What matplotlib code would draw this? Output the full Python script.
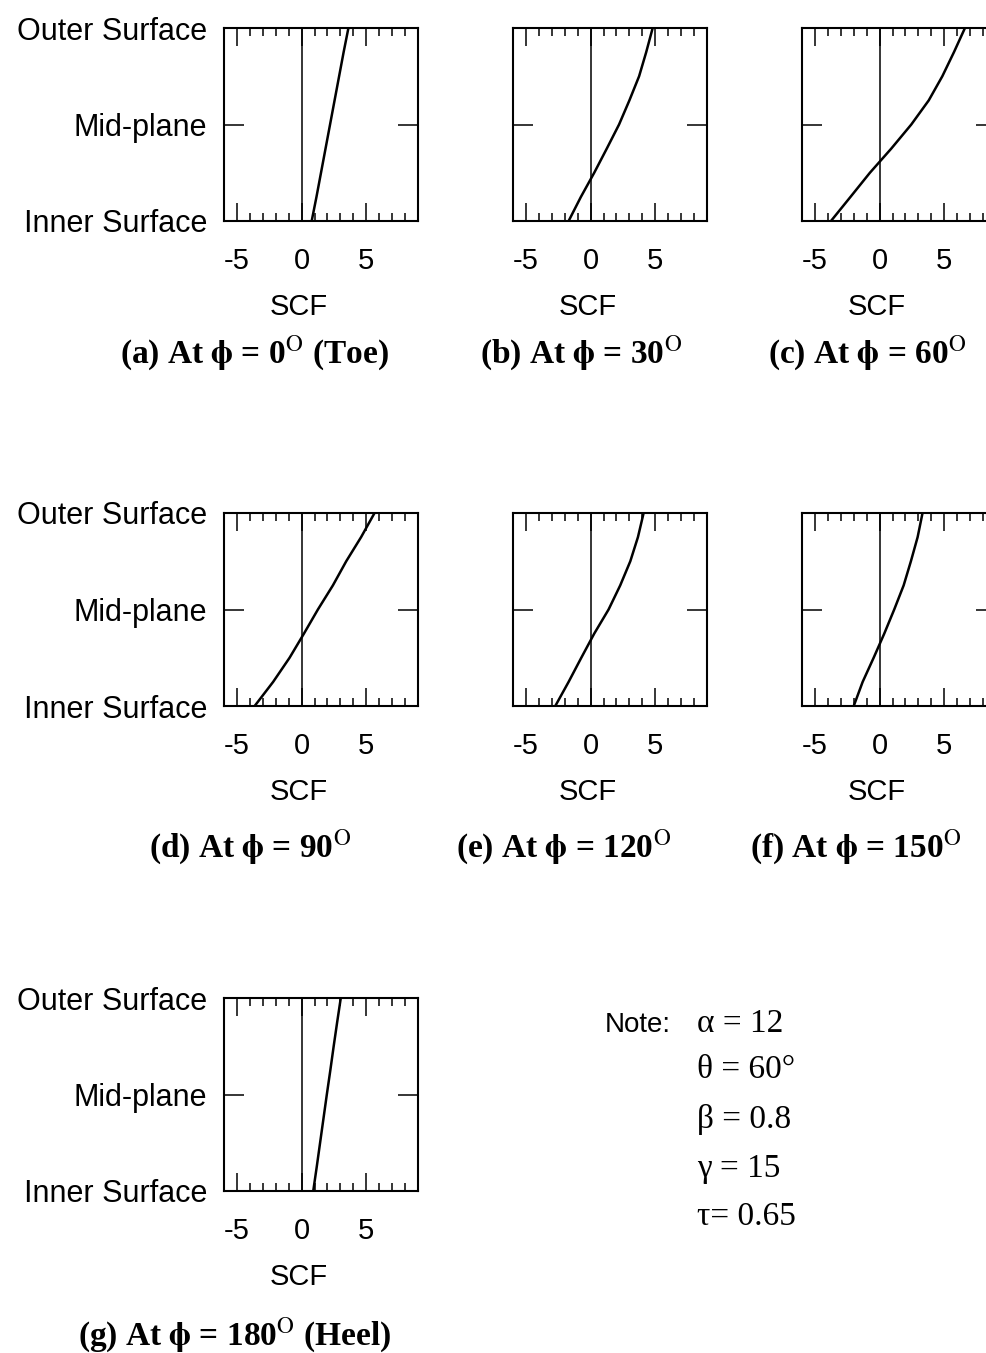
import matplotlib

matplotlib.use("Agg")
import matplotlib.pyplot as plt  # noqa: E402
from matplotlib.ticker import MultipleLocator  # noqa: E402

plt.rcParams["font.family"] = ["Liberation Sans", "DejaVu Sans"]
plt.rcParams["mathtext.fontset"] = "stix"

FIG_W, FIG_H = 987, 1353

# position through the wall: 0 = inner surface, 1 = outer surface
DEPTH = [0.0, 0.125, 0.25, 0.375, 0.5, 0.625, 0.75, 0.875, 1.0]

SCF_A = [0.78, 1.15, 1.50, 1.85, 2.20, 2.55, 2.90, 3.25, 3.62]
SCF_B = [-1.70, -0.75, 0.28, 1.25, 2.20, 3.00, 3.75, 4.30, 4.80]
SCF_C = [-3.76, -2.25, -0.75, 0.90, 2.45, 3.80, 4.85, 5.75, 6.60]
SCF_D = [-3.63, -2.20, -0.93, 0.18, 1.26, 2.42, 3.45, 4.60, 5.64]
SCF_E = [-2.73, -1.70, -0.72, 0.28, 1.39, 2.29, 3.07, 3.66, 4.10]
SCF_F = [-2.00, -1.31, -0.46, 0.36, 1.13, 1.86, 2.42, 2.94, 3.32]
SCF_G = [0.90, 1.17, 1.43, 1.69, 1.95, 2.22, 2.48, 2.75, 3.03]

LETTERS = ["a", "b", "c", "d", "e", "f", "g"]
PHI_DEG = [0, 30, 60, 90, 120, 150, 180]
SUFFIX = [" (Toe)", "", "", "", "", "", " (Heel)"]

XTICKS = [-5, 0, 5]
XTICK_LABELS = ["-5", "0", "5"]
YTICKS = [0.0, 0.5, 1.0]
YTICK_LABELS = ["Inner Surface", "Mid-plane", "Outer Surface"]

NOTE_LINES = ["\u03b1 = 12", "\u03b8 = 60\u00b0", "\u03b2 = 0.8", "\u03b3 = 15", "\u03c4= 0.65"]

# layout in pixels
COL_LEFT = [224, 513, 802]
ROW_TOP = [28, 513, 998]
AX_W, AX_H = 194, 193
GRID = [(0, 0), (0, 1), (0, 2), (1, 0), (1, 1), (1, 2), (2, 0)]
CAP_X = [254, 581, 867, 250, 564, 856, 235]
CAP_BASE = [363, 363, 363, 857, 857, 857, 1345]
NOTE_BASE = [1032, 1078, 1128, 1177, 1225]


def draw_panel(ax, scf, show_ylabels):
    ax.plot(scf, DEPTH, color="black", linewidth=1.8)
    ax.axvline(0, color="black", linewidth=1.1)
    ax.set_xlim(-6, 9)
    ax.set_ylim(0, 1)
    ax.set_xticks(XTICKS)
    ax.set_xticklabels(XTICK_LABELS)
    ax.xaxis.set_minor_locator(MultipleLocator(1))
    ax.set_yticks(YTICKS)
    ax.set_yticklabels(YTICK_LABELS if show_ylabels else [])
    ax.tick_params(axis="x", which="major", direction="in", top=True, bottom=True,
                   length=13, width=1.1, pad=19, labelsize=21)
    ax.tick_params(axis="x", which="minor", direction="in", top=True, bottom=True,
                   length=6, width=1.1)
    ax.tick_params(axis="y", direction="in", left=True, right=True,
                   length=14.5, width=1.1, pad=12, labelsize=22)
    for sp in ax.spines.values():
        sp.set_linewidth(1.5)
    ax.set_xlabel("SCF", fontsize=21)
    ax.xaxis.set_label_coords(0.387, -0.373)


fig = plt.figure(figsize=(FIG_W / 100, FIG_H / 100), dpi=100)

series = [SCF_A, SCF_B, SCF_C, SCF_D, SCF_E, SCF_F, SCF_G]
for i, scf in enumerate(series):
    r, c = GRID[i]
    rect = [COL_LEFT[c] / FIG_W, 1 - (ROW_TOP[r] + AX_H) / FIG_H, AX_W / FIG_W, AX_H / FIG_H]
    ax = fig.add_axes(rect)
    draw_panel(ax, scf, c == 0)
    caption = f"({LETTERS[i]}) At $\\mathbf{{\\phi}}$ = {PHI_DEG[i]}$^{{\\mathrm{{O}}}}$" + SUFFIX[i]
    fig.text(CAP_X[i] / FIG_W, 1 - CAP_BASE[i] / FIG_H, caption, ha="center", va="baseline",
             fontsize=24, fontweight="bold", family="Liberation Serif")

# parameter note
fig.text(605 / FIG_W, 1 - NOTE_BASE[0] / FIG_H, "Note:", ha="left", va="baseline", fontsize=20)
for line, yb in zip(NOTE_LINES, NOTE_BASE):
    fig.text(697 / FIG_W, 1 - yb / FIG_H, line, ha="left", va="baseline",
             fontsize=24, family="Liberation Serif")

fig.savefig("out.png", dpi=100)
plt.close(fig)
